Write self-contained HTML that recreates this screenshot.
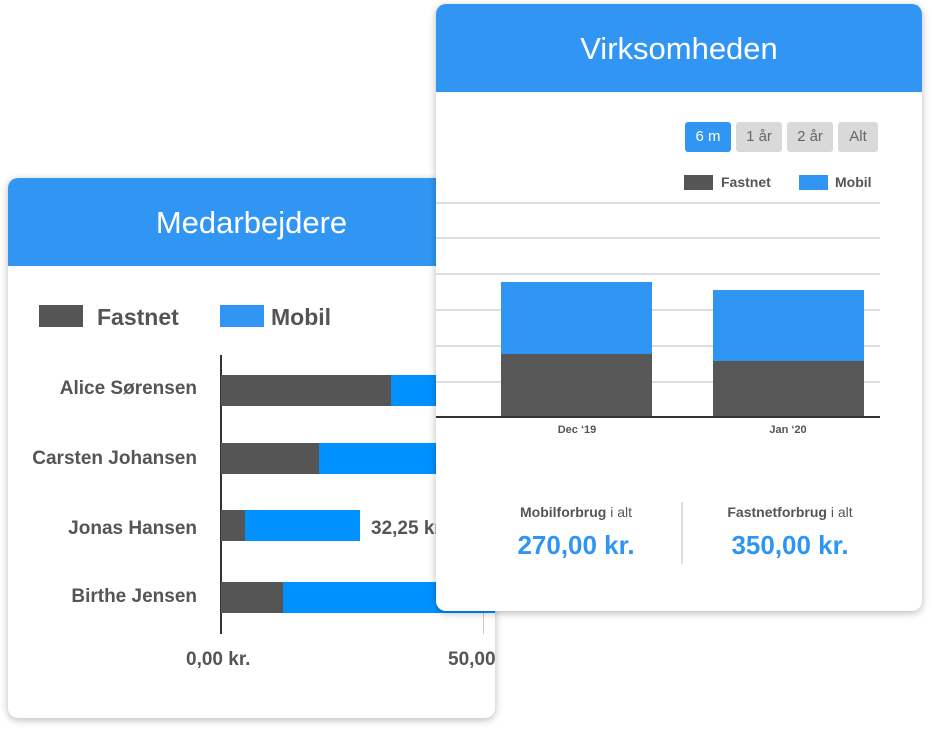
<!DOCTYPE html>
<html><head><meta charset="utf-8"><style>
*{margin:0;padding:0;box-sizing:border-box}
body{width:932px;height:730px;background:#fff;position:relative;overflow:hidden;font-family:"Liberation Sans",sans-serif;color:#555}
.card{position:absolute;background:#fff;border-radius:10px;box-shadow:0 2px 8px rgba(0,0,0,0.28);overflow:hidden}
.hdr{position:absolute;left:0;top:0;right:0;background:#3196f3;color:#fff;text-align:center;font-size:31px}
.a{position:absolute}
.b{font-weight:bold}
</style></head><body>

<div class="card" style="left:8px;top:178px;width:487px;height:540px">
  <div class="hdr" style="height:88px;line-height:90px">Medarbejdere</div>
  <div class="a" style="left:31px;top:127px;width:44px;height:22px;background:#555"></div>
  <div class="a b" style="left:89px;top:126px;font-size:23px;color:#555">Fastnet</div>
  <div class="a" style="left:212px;top:127px;width:44px;height:22px;background:#3196f3"></div>
  <div class="a b" style="left:263px;top:126px;font-size:23px;color:#555">Mobil</div>

  <div class="a" style="left:212px;top:177px;width:2px;height:279px;background:#333"></div>
  <div class="a" style="left:475px;top:435px;width:1px;height:21px;background:#ccc"></div>

  <div class="a b" style="right:298px;top:200px;font-size:19px;text-align:right;white-space:nowrap">Alice Sørensen</div>
  <div class="a" style="left:213px;top:197px;width:170px;height:31px;background:#555"></div>
  <div class="a" style="left:383px;top:197px;width:120px;height:31px;background:#0091ff"></div>

  <div class="a b" style="right:298px;top:270px;font-size:19px;text-align:right;white-space:nowrap">Carsten Johansen</div>
  <div class="a" style="left:213px;top:265px;width:98px;height:31px;background:#555"></div>
  <div class="a" style="left:311px;top:265px;width:200px;height:31px;background:#0091ff"></div>

  <div class="a b" style="right:298px;top:340px;font-size:19px;text-align:right;white-space:nowrap">Jonas Hansen</div>
  <div class="a" style="left:213px;top:332px;width:24px;height:31px;background:#555"></div>
  <div class="a" style="left:237px;top:332px;width:115px;height:31px;background:#0091ff"></div>
  <div class="a b" style="left:363px;top:340px;font-size:19px;white-space:nowrap">32,25 kr.</div>

  <div class="a b" style="right:298px;top:408px;font-size:19px;text-align:right;white-space:nowrap">Birthe Jensen</div>
  <div class="a" style="left:213px;top:404px;width:62px;height:31px;background:#555"></div>
  <div class="a" style="left:275px;top:404px;width:220px;height:31px;background:#0091ff"></div>

  <div class="a b" style="left:178px;top:471px;font-size:19px;white-space:nowrap">0,00 kr.</div>
  <div class="a b" style="left:440px;top:471px;font-size:19px;white-space:nowrap">50,00 kr.</div>
</div>

<div class="card" style="left:436px;top:4px;width:486px;height:607px">
  <div class="hdr" style="height:88px;line-height:90px">Virksomheden</div>
  <div class="a" style="left:249px;top:118px;width:46px;height:30px;background:#3196f3;color:#fff;border-radius:3px;text-align:center;line-height:30px;font-size:15px">6 m</div>
  <div class="a" style="left:300px;top:118px;width:46px;height:30px;background:#d9d9d9;color:#666;border-radius:3px;text-align:center;line-height:30px;font-size:15px">1 år</div>
  <div class="a" style="left:351px;top:118px;width:46px;height:30px;background:#d9d9d9;color:#666;border-radius:3px;text-align:center;line-height:30px;font-size:15px">2 år</div>
  <div class="a" style="left:402px;top:118px;width:40px;height:30px;background:#d9d9d9;color:#666;border-radius:3px;text-align:center;line-height:30px;font-size:15px">Alt</div>

  <div class="a" style="left:248px;top:171px;width:29px;height:15px;background:#555"></div>
  <div class="a b" style="left:285px;top:170px;font-size:14px">Fastnet</div>
  <div class="a" style="left:363px;top:171px;width:29px;height:15px;background:#3196f3"></div>
  <div class="a b" style="left:399px;top:170px;font-size:14px">Mobil</div>

  <div class="a" style="left:0;top:198px;width:444px;height:2px;background:#ddd"></div>
  <div class="a" style="left:0;top:233px;width:444px;height:2px;background:#ddd"></div>
  <div class="a" style="left:0;top:269px;width:444px;height:2px;background:#ddd"></div>
  <div class="a" style="left:0;top:305px;width:444px;height:2px;background:#ddd"></div>
  <div class="a" style="left:0;top:341px;width:444px;height:2px;background:#ddd"></div>
  <div class="a" style="left:0;top:377px;width:444px;height:2px;background:#ddd"></div>

  <div class="a" style="left:65px;top:278px;width:151px;height:72px;background:#2f95f2"></div>
  <div class="a" style="left:65px;top:350px;width:151px;height:63px;background:#575757"></div>
  <div class="a" style="left:277px;top:286px;width:151px;height:71px;background:#2f95f2"></div>
  <div class="a" style="left:277px;top:357px;width:151px;height:56px;background:#575757"></div>
  <div class="a" style="left:0;top:412px;width:444px;height:2px;background:#333"></div>

  <div class="a b" style="left:100px;top:420px;width:82px;text-align:center;font-size:11px">Dec ‘19</div>
  <div class="a b" style="left:311px;top:420px;width:82px;text-align:center;font-size:11px">Jan ‘20</div>

  <div class="a" style="left:245px;top:498px;width:2px;height:62px;background:#ddd"></div>
  <div class="a" style="left:40px;top:500px;width:200px;text-align:center;font-size:14px;color:#555"><span class="b">Mobilforbrug</span> i alt</div>
  <div class="a b" style="left:40px;top:526px;width:200px;text-align:center;font-size:26px;color:#2f95f2">270,00 kr.</div>
  <div class="a" style="left:254px;top:500px;width:200px;text-align:center;font-size:14px;color:#555"><span class="b">Fastnetforbrug</span> i alt</div>
  <div class="a b" style="left:254px;top:526px;width:200px;text-align:center;font-size:26px;color:#2f95f2">350,00 kr.</div>
</div>
</body></html>
